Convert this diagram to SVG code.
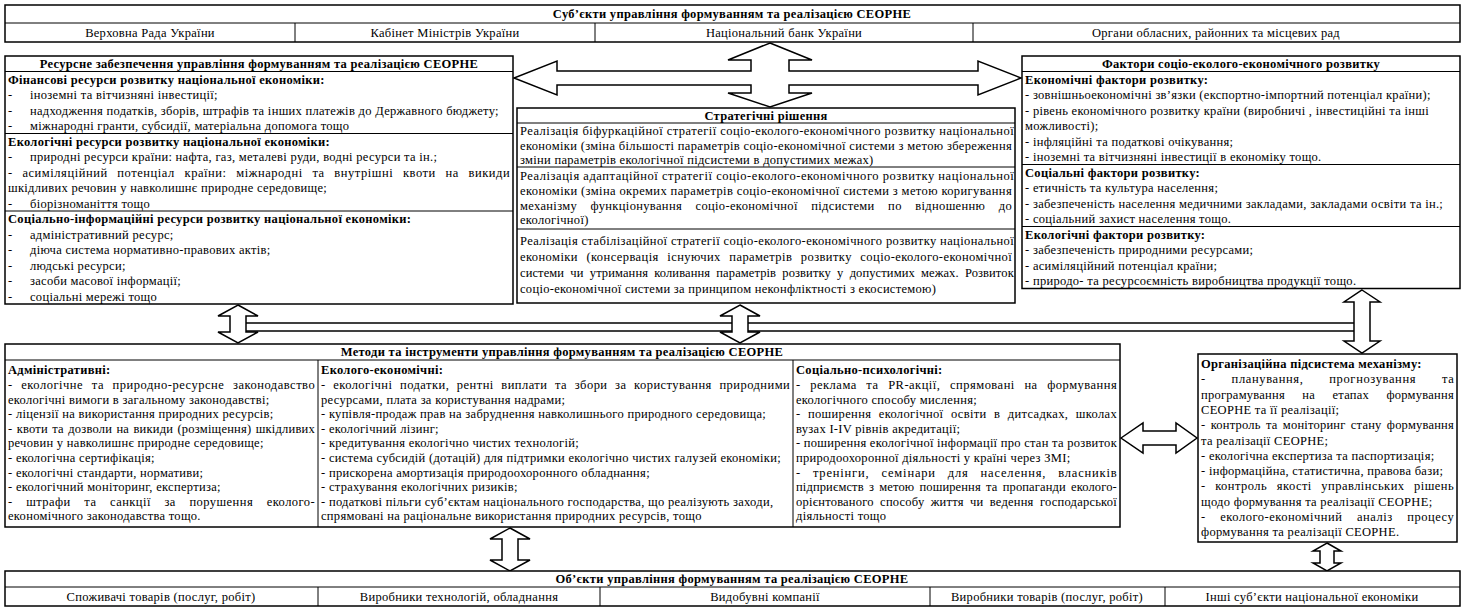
<svg xmlns="http://www.w3.org/2000/svg" width="1465" height="608" viewBox="0 0 1465 608">
<style>
.box{fill:#fff;stroke:#000;stroke-width:1.5}
.ln{stroke:#000;stroke-width:1;fill:none}
.arr{fill:#fff;stroke:#000;stroke-width:1.5;stroke-linejoin:miter}
text{font-family:"Liberation Serif","Times New Roman",serif;font-size:12.5px;fill:#000;letter-spacing:0.3px}
.b{font-weight:bold}
.c{text-anchor:middle}
</style>
<rect width="1465" height="608" fill="#fff"/>

<g id="connectors">
<rect class="arr" x="238" y="323" width="1124" height="8"/>
<polygon class="arr" points="770,43 812,60 789,60 789,71 978,71 978,61 1021,78 978,95 978,85 789,85 789,93 812,93 770,107 728,93 751,93 751,85 557,85 557,95 514,78 557,61 557,71 751,71 751,60 728,60"/>
<polygon class="arr" points="238,305 258,316 246,316 246,332 258,332 238,343 218,332 230,332 230,316 218,316"/>
<polygon class="arr" points="740,305 760,316 748,316 748,332 760,332 740,343 720,332 732,332 732,316 720,316"/>
<polygon class="arr" points="1362,290 1380,302 1370,302 1370,341 1380,341 1362,353 1344,341 1354,341 1354,302 1344,302"/>
<polygon class="arr" points="510,528 530,539 518,539 518,560 530,560 510,571 490,560 502,560 502,539 490,539"/>
<polygon class="arr" points="1327,543 1341,551 1334,551 1334,563 1341,563 1327,571 1313,563 1320,563 1320,551 1313,551"/>
<polygon class="arr" points="1121,438 1143,423 1143,431 1176,431 1176,423 1197,438 1176,453 1176,445 1143,445 1143,453"/>
</g>

<g id="subjects">
<rect class="box" x="5" y="5" width="1455" height="37"/>
<line class="ln" x1="5" y1="23" x2="1460" y2="23"/>
<line class="ln" x1="295" y1="23" x2="295" y2="42"/>
<line class="ln" x1="595" y1="23" x2="595" y2="42"/>
<line class="ln" x1="973" y1="23" x2="973" y2="42"/>
<text class="b c" x="732" y="18.3">Суб’єкти управління формуванням та реалізацією СЕОРНЕ</text>
<text class="c" x="150" y="36.8">Верховна Рада України</text>
<text class="c" x="445" y="36.8">Кабінет Міністрів України</text>
<text class="c" x="784" y="36.8">Національний банк України</text>
<text class="c" x="1216" y="36.8">Органи обласних, районних та місцевих рад</text>
</g>

<g id="resources">
<rect class="box" x="5" y="56" width="508" height="248"/>
<line class="ln" x1="5" y1="71.5" x2="513" y2="71.5"/>
<line class="ln" x1="5" y1="133.5" x2="513" y2="133.5"/>
<line class="ln" x1="5" y1="211" x2="513" y2="211"/>
<text class="b c" x="259" y="68">Ресурсне забезпечення управління формуванням та реалізацією СЕОРНЕ</text>
<text class="b" x="8" y="83.5">Фінансові ресурси розвитку національної економіки:</text>
<text x="8" y="99">-</text><text x="30" y="99">іноземні та вітчизняні інвестиції;</text>
<text x="8" y="114.5">-</text><text x="30" y="114.5">надходження податків, зборів, штрафів та інших платежів до Державного бюджету;</text>
<text x="8" y="130">-</text><text x="30" y="130">міжнародні гранти, субсидії, матеріальна допомога тощо</text>
<text class="b" x="8" y="145.5">Екологічні ресурси розвитку національної економіки:</text>
<text x="8" y="161">-</text><text x="30" y="161">природні ресурси країни: нафта, газ, металеві руди, водні ресурси та ін.;</text>
<text x="8" y="176.5" word-spacing="6" textLength="502" lengthAdjust="spacing">- асиміляційний потенціал країни: міжнародні та внутрішні квоти на викиди</text>
<text x="8" y="192">шкідливих речовин у навколишнє природне середовище;</text>
<text x="8" y="207.5">-</text><text x="30" y="207.5">біорізноманіття тощо</text>
<text class="b" x="8" y="223">Соціально-інформаційні ресурси розвитку національної економіки:</text>
<text x="8" y="238.5">-</text><text x="30" y="238.5">адміністративний ресурс;</text>
<text x="8" y="254">-</text><text x="30" y="254">діюча система нормативно-правових актів;</text>
<text x="8" y="269.5">-</text><text x="30" y="269.5">людські ресурси;</text>
<text x="8" y="285">-</text><text x="30" y="285">засоби масової інформації;</text>
<text x="8" y="300.5">-</text><text x="30" y="300.5">соціальні мережі тощо</text>
</g>

<g id="strategy">
<rect class="box" x="517" y="108" width="498" height="195"/>
<line class="ln" x1="517" y1="123" x2="1015" y2="123"/>
<line class="ln" x1="517" y1="167" x2="1015" y2="167"/>
<line class="ln" x1="517" y1="229" x2="1015" y2="229"/>
<text class="b c" x="766" y="119.5">Стратегічні рішення</text>
<text x="520" y="135" textLength="494" lengthAdjust="spacing">Реалізація біфуркаційної стратегії соціо-еколого-економічного розвитку національної</text>
<text x="520" y="149.5" textLength="492" lengthAdjust="spacing">економіки (зміна більшості параметрів соціо-економічної системи з метою збереження</text>
<text x="520" y="164">зміни параметрів екологічної підсистеми в допустимих межах)</text>
<text x="520" y="179.5" textLength="494" lengthAdjust="spacing">Реалізація адаптаційної стратегії соціо-еколого-економічного розвитку національної</text>
<text x="520" y="194.5" textLength="492" lengthAdjust="spacing">економіки (зміна окремих параметрів соціо-економічної системи з метою коригування</text>
<text x="520" y="209.5" word-spacing="10" textLength="492" lengthAdjust="spacing">механізму функціонування соціо-економічної підсистеми по відношенню до</text>
<text x="520" y="224">екологічної)</text>
<text x="520" y="245" textLength="494" lengthAdjust="spacing">Реалізація стабілізаційної стратегії соціо-еколого-економічного розвитку національної</text>
<text x="520" y="261" word-spacing="5" textLength="492" lengthAdjust="spacing">економіки (консервація існуючих параметрів розвитку соціо-еколого-економічної</text>
<text x="520" y="277" word-spacing="3" textLength="494" lengthAdjust="spacing">системи чи утримання коливання параметрів розвитку у допустимих межах. Розвиток</text>
<text x="520" y="293">соціо-економічної системи за принципом неконфліктності з екосистемою)</text>
</g>

<g id="factors">
<rect class="box" x="1022" y="56" width="438" height="232.5"/>
<line class="ln" x1="1022" y1="71.5" x2="1460" y2="71.5"/>
<line class="ln" x1="1022" y1="164.5" x2="1460" y2="164.5"/>
<line class="ln" x1="1022" y1="226.5" x2="1460" y2="226.5"/>
<text class="b c" x="1241" y="68">Фактори соціо-еколого-економічного розвитку</text>
<text class="b" x="1025" y="83.5">Економічні фактори розвитку:</text>
<text x="1025" y="99">- зовнішньоекономічні зв’язки (експортно-імпортний потенціал країни);</text>
<text x="1025" y="114.5">- рівень економічного розвитку країни (виробничі , інвестиційні та інші</text>
<text x="1025" y="130">можливості);</text>
<text x="1025" y="145.5">- інфляційні та податкові очікування;</text>
<text x="1025" y="161">- іноземні та вітчизняні інвестиції в економіку тощо.</text>
<text class="b" x="1025" y="176.5">Соціальні фактори розвитку:</text>
<text x="1025" y="192">- етичність та культура населення;</text>
<text x="1025" y="207.5">- забезпеченість населення медичними закладами, закладами освіти та ін.;</text>
<text x="1025" y="223">- соціальний захист населення тощо.</text>
<text class="b" x="1025" y="238.5">Екологічні фактори розвитку:</text>
<text x="1025" y="254">- забезпеченість природними ресурсами;</text>
<text x="1025" y="269.5">- асиміляційний потенціал країни;</text>
<text x="1025" y="285">- природо- та ресурсоємність виробництва продукції тощо.</text>
</g>

<g id="methods">
<rect class="box" x="5" y="344" width="1115" height="183"/>
<line class="ln" x1="5" y1="360" x2="1120" y2="360"/>
<line class="ln" x1="318" y1="360" x2="318" y2="527"/>
<line class="ln" x1="793" y1="360" x2="793" y2="527"/>
<text class="b c" x="562" y="356.3">Методи та інструменти управління формуванням та реалізацією СЕОРНЕ</text>
<text class="b" x="8" y="374.3">Адміністративні:</text>
<text x="8" y="388.9" word-spacing="5" textLength="307" lengthAdjust="spacing">- екологічне та природно-ресурсне законодавство</text>
<text x="8" y="403.5">екологічні вимоги в загальному законодавстві;</text>
<text x="8" y="418.1">- ліцензії на використання природних ресурсів;</text>
<text x="8" y="432.7" word-spacing="1" textLength="307" lengthAdjust="spacing">- квоти та дозволи на викиди (розміщення) шкідливих</text>
<text x="8" y="447.3">речовин у навколишнє природне середовище;</text>
<text x="8" y="461.9">- екологічна сертифікація;</text>
<text x="8" y="476.5">- екологічні стандарти, нормативи;</text>
<text x="8" y="491.1">- екологічний моніторинг, експертиза;</text>
<text x="8" y="505.7" word-spacing="10" textLength="307" lengthAdjust="spacing">- штрафи та санкції за порушення еколого-</text>
<text x="8" y="520.3">економічного законодавства тощо.</text>
<text class="b" x="321" y="374.3">Еколого-економічні:</text>
<text x="321" y="388.9" word-spacing="4" textLength="469" lengthAdjust="spacing">- екологічні податки, рентні виплати та збори за користування природними</text>
<text x="321" y="403.5">ресурсами, плата за користування надрами;</text>
<text x="321" y="418.1">- купівля-продаж прав на забруднення навколишнього природного середовища;</text>
<text x="321" y="432.7">- екологічний лізинг;</text>
<text x="321" y="447.3">- кредитування екологічно чистих технологій;</text>
<text x="321" y="461.9">- система субсидій (дотацій) для підтримки екологічно чистих галузей економіки;</text>
<text x="321" y="476.5">- прискорена амортизація природоохоронного обладнання;</text>
<text x="321" y="491.1">- страхування екологічних ризиків;</text>
<text x="321" y="505.7">- податкові пільги суб’єктам національного господарства, що реалізують заходи,</text>
<text x="321" y="520.3">спрямовані на раціональне використання природних ресурсів, тощо</text>
<text class="b" x="796" y="374.3">Соціально-психологічні:</text>
<text x="796" y="388.9" word-spacing="6" textLength="321" lengthAdjust="spacing">- реклама та PR-акції, спрямовані на формування</text>
<text x="796" y="403.5">екологічного способу мислення;</text>
<text x="796" y="418.1" word-spacing="4" textLength="321" lengthAdjust="spacing">- поширення екологічної освіти в дитсадках, школах</text>
<text x="796" y="432.7">вузах I-IV рівнів акредитації;</text>
<text x="796" y="447.3" textLength="321" lengthAdjust="spacing">- поширення екологічної інформації про стан та розвиток</text>
<text x="796" y="461.9">природоохоронної діяльності у країні через ЗМІ;</text>
<text x="796" y="476.5" word-spacing="8" textLength="321" lengthAdjust="spacing">- тренінги, семінари для населення, власників</text>
<text x="796" y="491.1" word-spacing="2" textLength="321" lengthAdjust="spacing">підприємств з метою поширення та пропаганди еколого-</text>
<text x="796" y="505.7" word-spacing="3" textLength="321" lengthAdjust="spacing">орієнтованого способу життя чи ведення господарської</text>
<text x="796" y="520.3">діяльності тощо</text>
</g>

<g id="organizational">
<rect class="box" x="1198" y="354" width="259" height="188"/>
<text class="b" x="1201" y="368">Організаційна підсистема механізму:</text>
<text x="1201" y="383.3" word-spacing="22" textLength="253" lengthAdjust="spacing">- планування, прогнозування та</text>
<text x="1201" y="398.6" word-spacing="14" textLength="253" lengthAdjust="spacing">програмування на етапах формування</text>
<text x="1201" y="413.9">СЕОРНЕ та її реалізації;</text>
<text x="1201" y="429.2" word-spacing="2" textLength="253" lengthAdjust="spacing">- контроль та моніторинг стану формування</text>
<text x="1201" y="444.5">та реалізації СЕОРНЕ;</text>
<text x="1201" y="459.8">- екологічна експертиза та паспортизація;</text>
<text x="1201" y="475.1">- інформаційна, статистична, правова бази;</text>
<text x="1201" y="490.4" word-spacing="6" textLength="253" lengthAdjust="spacing">- контроль якості управлінських рішень</text>
<text x="1201" y="505.7">щодо формування та реалізації СЕОРНЕ;</text>
<text x="1201" y="521" word-spacing="11" textLength="253" lengthAdjust="spacing">- еколого-економічний аналіз процесу</text>
<text x="1201" y="536.3">формування та реалізації СЕОРНЕ.</text>
</g>

<g id="objects">
<rect class="box" x="5" y="571" width="1455" height="35"/>
<line class="ln" x1="5" y1="587" x2="1460" y2="587"/>
<line class="ln" x1="318" y1="587" x2="318" y2="606"/>
<line class="ln" x1="600" y1="587" x2="600" y2="606"/>
<line class="ln" x1="930" y1="587" x2="930" y2="606"/>
<line class="ln" x1="1165" y1="587" x2="1165" y2="606"/>
<text class="b c" x="732" y="583.3">Об’єкти управління формуванням та реалізацією СЕОРНЕ</text>
<text class="c" x="161" y="601">Споживачі товарів (послуг, робіт)</text>
<text class="c" x="459" y="601">Виробники технологій, обладнання</text>
<text class="c" x="765" y="601">Видобувні компанії</text>
<text class="c" x="1047" y="601">Виробники товарів (послуг, робіт)</text>
<text class="c" x="1312" y="601">Інші суб’єкти національної економіки</text>
</g>
</svg>
